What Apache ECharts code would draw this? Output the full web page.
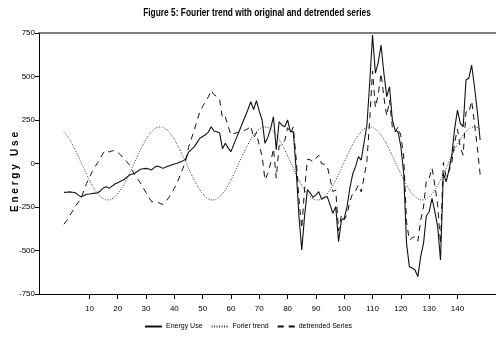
<!DOCTYPE html>
<html>
<head>
<meta charset="utf-8">
<script src="https://cdn.jsdelivr.net/npm/echarts@6/dist/echarts.min.js"></script>
<style>
html,body{margin:0;padding:0;background:#fff;}
#chart{width:496px;height:349px;}
</style>
</head>
<body>
<div id="chart"></div>
<script>
// Period index 1..148
const xTickValues = [10,20,30,40,50,60,70,80,90,100,110,120,130,140];
const yTickValues = [-750,-500,-250,0,250,500,750];

const energyUse = [
-166,-165,-163,-165,-168,-180,-192,-185,-177,-175,
-172,-170,-168,-155,-140,-133,-143,-130,-118,-110,
-102,-95,-82,-68,-62,-56,-45,-33,-30,-28,
-32,-37,-22,-14,-20,-28,-20,-14,-8,-3,
1,8,15,25,65,80,95,120,145,155,
165,180,211,187,182,175,85,116,90,68,
110,150,190,230,270,310,355,310,361,300,
250,116,150,200,269,80,240,220,211,250,
183,183,-30,-300,-497,-300,-150,-170,-195,-180,
-162,-205,-195,-190,-238,-286,-248,-449,-325,-315,
-248,-140,-60,-18,39,20,120,220,461,738,
520,580,681,520,384,441,250,190,183,97,
-56,-459,-593,-600,-612,-650,-535,-459,-300,-277,
-200,-277,-363,-555,-56,-105,-37,50,200,307,
231,211,480,490,566,441,300,135
];

const fourierTrend = [
183,163,139,110,78,44,9,-27,-62,-95,
-125,-152,-174,-191,-203,-209,-209,-203,-191,-174,
-152,-125,-95,-62,-27,9,44,78,110,139,
163,183,198,207,210,207,198,183,163,139,
110,78,44,9,-27,-62,-95,-125,-152,-174,
-191,-203,-209,-209,-203,-191,-174,-152,-125,-95,
-62,-27,9,44,78,110,139,163,183,198,
207,210,207,198,183,163,139,110,78,44,
9,-27,-62,-95,-125,-152,-174,-191,-203,-209,
-209,-203,-191,-174,-152,-125,-95,-62,-27,9,
44,78,110,139,163,183,198,207,210,207,
198,183,163,139,110,78,44,9,-27,-62,
-95,-125,-152,-174,-191,-203,-209,-209,-203,-191,
-174,-152,-125,-95,-62,-27,9,44,78,110,
139,163,183,198,207,210,207,198
];

const detrendedSeries = [
-349,-328,-302,-275,-246,-224,-201,-158,-115,-80,
-47,-18,6,36,63,76,66,73,73,64,
50,30,13,-6,-35,-65,-89,-111,-140,-167,
-195,-220,-220,-221,-230,-235,-218,-197,-171,-142,
-109,-70,-29,16,92,142,190,245,297,329,
356,383,420,396,385,366,259,268,215,163,
172,177,181,186,192,200,216,147,178,102,
43,-94,-57,2,86,-83,101,110,133,206,
174,210,32,-205,-372,-148,24,21,8,29,
47,-2,-4,-16,-86,-161,-153,-387,-298,-324,
-292,-218,-170,-157,-124,-163,-78,13,251,531,
322,397,518,381,274,363,206,181,210,159,
39,-334,-441,-426,-421,-447,-326,-250,-97,-86,
-26,-125,-238,-460,6,-78,-46,6,122,197,
92,48,297,292,359,231,93,-63
];

const seriesNames = ['Energy Use','Forier trend','detrended Series'];
const titleText = 'Figure 5: Fourier trend with original and detrended series';
const axisName = 'E n e r g y   U s e';

function pairs(arr){ return arr.map((v,i)=>[i+1, v]); }

const fam = "'Liberation Sans','Arial',sans-serif";

const chart = echarts.init(document.getElementById('chart'), null, {renderer:'canvas'});
chart.setOption({
  animation:false,
  backgroundColor:'#ffffff',
  grid:{left:39, right:0, top:33, bottom:55, containLabel:false},
  legend:{
    data:seriesNames,
    left:'center', top:318,
    itemWidth:17, itemHeight:4, itemGap:8,
    itemStyle:{opacity:0},
    textStyle:{fontFamily:fam, fontSize:7, color:'#000', padding:[0,0,0,-1]}
  },
  graphic:[{
    type:'text', x:257, y:13, scaleX:0.76, scaleY:1,
    style:{text:titleText, font:"bold 11px "+fam, fill:'#000',
      align:'center', verticalAlign:'middle'}
  },{
    type:'text', x:15, y:172, rotation:Math.PI/2,
    style:{text:axisName, font:"bold 10px "+fam, fill:'#000',
      align:'center', verticalAlign:'middle'}
  }],
  xAxis:[{
    type:'value', min:-7.8, max:153.6,
    axisLine:{show:true, onZero:false, lineStyle:{color:'#000', width:1}},
    axisTick:{show:true, length:5, customValues:xTickValues, lineStyle:{color:'#000'}},
    axisLabel:{customValues:xTickValues, fontFamily:fam, fontSize:8, color:'#000', margin:11},
    splitLine:{show:false}
  },{
    type:'value', min:-7.8, max:153.6, position:'top',
    axisLine:{show:true, onZero:false, lineStyle:{color:'#555', width:1.5}},
    axisTick:{show:false}, axisLabel:{show:false}, splitLine:{show:false}
  }],
  yAxis:{
    type:'value', min:-750, max:750, interval:250,
    axisLine:{show:true, onZero:false, lineStyle:{color:'#000', width:1}},
    axisTick:{show:true, length:4, lineStyle:{color:'#000'}},
    axisLabel:{fontFamily:fam, fontSize:8, color:'#000', margin:4},
    splitLine:{show:false}
  },
  series:[
    {name:seriesNames[0], type:'line', data:pairs(energyUse), showSymbol:false, symbol:'none',
      lineStyle:{color:'#111', width:1.1, type:'solid'}, itemStyle:{color:'#111'}, z:3},
    {name:seriesNames[1], type:'line', data:pairs(fourierTrend), showSymbol:false, symbol:'none',
      smooth:true,
      lineStyle:{color:'#333', width:1, type:[1,1.5]}, itemStyle:{color:'#333'}, z:2},
    {name:seriesNames[2], type:'line', data:pairs(detrendedSeries), showSymbol:false, symbol:'none',
      lineStyle:{color:'#111', width:1, type:[6,5]}, itemStyle:{color:'#111'}, z:2}
  ]
});
</script>
</body>
</html>
